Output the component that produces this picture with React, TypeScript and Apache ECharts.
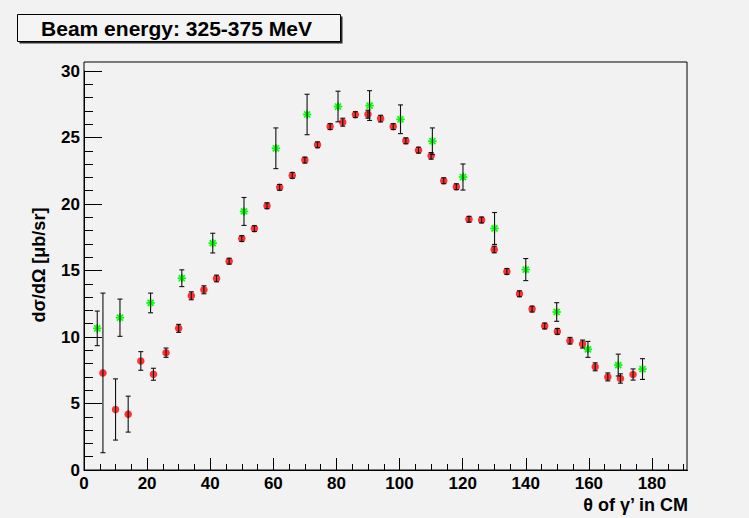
import React, { useEffect, useRef } from "react";
import * as echarts from "echarts";

const redX = [6, 10, 14, 18, 22, 26, 30, 34, 38, 42, 46, 50, 54, 58, 62, 66, 70, 74, 78, 82, 86, 90, 94, 98, 102, 106, 110, 114, 118, 122, 126, 130, 134, 138, 142, 146, 150, 154, 158, 162, 166, 170, 174];
const redY = [7.3, 4.55, 4.2, 8.2, 7.2, 8.82, 10.65, 13.1, 13.55, 14.4, 15.7, 17.4, 18.15, 19.87, 21.25, 22.15, 23.3, 24.45, 25.82, 26.15, 26.72, 26.75, 26.42, 25.82, 24.75, 24.05, 23.62, 21.75, 21.3, 18.85, 18.8, 16.58, 14.93, 13.25, 12.1, 10.83, 10.42, 9.72, 9.47, 7.76, 7.0, 6.88, 7.18];
const redErr = [6.0, 2.3, 1.35, 0.7, 0.45, 0.35, 0.3, 0.3, 0.3, 0.25, 0.22, 0.22, 0.22, 0.22, 0.22, 0.22, 0.22, 0.22, 0.22, 0.3, 0.22, 0.3, 0.25, 0.22, 0.22, 0.22, 0.25, 0.22, 0.22, 0.22, 0.22, 0.25, 0.22, 0.22, 0.22, 0.22, 0.22, 0.25, 0.3, 0.3, 0.3, 0.35, 0.42];

const greenX = [4.2, 11.4, 21.1, 31.0, 40.8, 50.7, 60.8, 70.7, 80.5, 90.5, 100.3, 110.4, 120.1, 130.1, 140.0, 149.8, 159.7, 169.3, 177.0];
const greenY = [10.65, 11.45, 12.56, 14.42, 17.06, 19.44, 24.19, 26.73, 27.33, 27.4, 26.37, 24.72, 22.03, 18.16, 15.07, 11.88, 9.07, 7.89, 7.59];
const greenErr = [1.3, 1.4, 0.74, 0.63, 0.74, 1.05, 1.53, 1.52, 1.15, 1.12, 1.08, 1.0, 0.98, 1.2, 0.83, 0.7, 0.6, 0.82, 0.78];

const xTicks = [0, 20, 40, 60, 80, 100, 120, 140, 160, 180];
const yTicks = [0, 5, 10, 15, 20, 25, 30];

const BG = "#f2f2f2";
const FONT = "'Liberation Sans', Arial, Helvetica, sans-serif";

export default function App() {
  const ref = useRef<HTMLDivElement>(null);
  useEffect(() => {
    if (!ref.current) return;
    const chart = echarts.init(ref.current, undefined, { renderer: "svg" });

    const errRender = (params: any, api: any) => {
      const x = api.value(0);
      const y = api.value(1);
      const e = api.value(2);
      const top = api.coord([x, y + e]);
      const bot = api.coord([x, y - e]);
      const cw = 2.5;
      const style = { stroke: "#111", lineWidth: 1.1 };
      return {
        type: "group",
        children: [
          { type: "line", shape: { x1: top[0], y1: top[1], x2: bot[0], y2: bot[1] }, style },
          { type: "line", shape: { x1: top[0] - cw, y1: top[1], x2: top[0] + cw, y2: top[1] }, style },
          { type: "line", shape: { x1: bot[0] - cw, y1: bot[1], x2: bot[0] + cw, y2: bot[1] }, style },
        ],
      };
    };

    const starRender = (params: any, api: any) => {
      const p = api.coord([api.value(0), api.value(1)]);
      const r = 4.2;
      const d = r * 0.72;
      const style = { stroke: "#00ff00", lineWidth: 1.7 };
      return {
        type: "group",
        children: [
          { type: "line", shape: { x1: p[0] - r, y1: p[1], x2: p[0] + r, y2: p[1] }, style },
          { type: "line", shape: { x1: p[0], y1: p[1] - r, x2: p[0], y2: p[1] + r }, style },
          { type: "line", shape: { x1: p[0] - d, y1: p[1] - d, x2: p[0] + d, y2: p[1] + d }, style },
          { type: "line", shape: { x1: p[0] - d, y1: p[1] + d, x2: p[0] + d, y2: p[1] - d }, style },
        ],
      };
    };

    const redData = redX.map((x, i) => [x, redY[i], redErr[i]]);
    const greenData = greenX.map((x, i) => [x, greenY[i], greenErr[i]]);

    chart.setOption({
      animation: false,
      backgroundColor: BG,
      grid: { left: 84, top: 71, right: 33.9, bottom: 48, containLabel: false },
      xAxis: {
        type: "value",
        min: 0,
        max: 200,
        interval: 20,
        axisLine: { show: true, onZero: false, lineStyle: { color: "#000", width: 1 } },
        axisTick: { show: true, inside: true, length: 12, lineStyle: { color: "#000" } },
        minorTick: { show: true, splitNumber: 4, length: 6, lineStyle: { color: "#000" } },
        splitLine: { show: false },
        axisLabel: {
          margin: 5,
          fontFamily: FONT,
          fontWeight: "bold",
          fontSize: 17,
          color: "#000",
          showMaxLabel: false,
          formatter: (v: number) => (xTicks.includes(v) ? String(v) : ""),
        },
      },
      yAxis: {
        type: "value",
        min: 0,
        max: 30,
        interval: 5,
        axisLine: { show: true, onZero: false, lineStyle: { color: "#000", width: 1 } },
        axisTick: { show: true, inside: true, length: 18, lineStyle: { color: "#000" } },
        minorTick: { show: true, splitNumber: 5, length: 9, lineStyle: { color: "#000" } },
        splitLine: { show: false },
        axisLabel: {
          margin: 4,
          fontFamily: FONT,
          fontWeight: "bold",
          fontSize: 17,
          color: "#000",
          formatter: (v: number) => (yTicks.includes(v) ? String(v) : ""),
        },
      },
      graphic: [
        { type: "rect", z: 10, shape: { x: 688, y: 440, width: 61, height: 40 }, style: { fill: BG } },
        { type: "rect", z: 11, shape: { x: 84, y: 62, width: 603, height: 408 }, style: { fill: "none", stroke: "#000", lineWidth: 1 } },
        { type: "rect", z: 11, shape: { x: 19.5, y: 16.5, width: 323, height: 27 }, style: { fill: "#2a2a2a" } },
        { type: "rect", z: 12, shape: { x: 17.5, y: 14.5, width: 323, height: 27 }, style: { fill: "#f4f4f4", stroke: "#000", lineWidth: 1 } },
        {
          type: "text", z: 13, x: 176.5, y: 28.5,
          style: { text: "Beam energy: 325-375 MeV", font: `bold 21px ${FONT}`, fill: "#000", align: "center", verticalAlign: "middle" },
        },
        {
          type: "text", z: 13, x: 38.5, y: 265, rotation: Math.PI / 2,
          style: { text: "dσ/dΩ [μb/sr]", font: `bold 18px ${FONT}`, fill: "#000", align: "center", verticalAlign: "middle" },
        },
        {
          type: "text", z: 13, x: 688, y: 505,
          style: { text: "θ of γ’ in CM", font: `bold 18px ${FONT}`, fill: "#000", align: "right", verticalAlign: "middle" },
        },
      ],
      series: [
        {
          type: "scatter",
          data: redData,
          symbol: "circle",
          symbolSize: 7.5,
          itemStyle: { color: "#ff0000" },
          z: 2,
        },
        {
          type: "custom",
          data: greenData,
          renderItem: starRender,
          z: 3,
        },
        {
          type: "custom",
          data: redData,
          renderItem: errRender,
          z: 4,
        },
        {
          type: "custom",
          data: greenData,
          renderItem: errRender,
          z: 4,
        },
      ],
    });
    return () => chart.dispose();
  }, []);
  return <div ref={ref} style={{ width: 749, height: 518, position: "absolute", left: 0, top: 0 }} />;
}
